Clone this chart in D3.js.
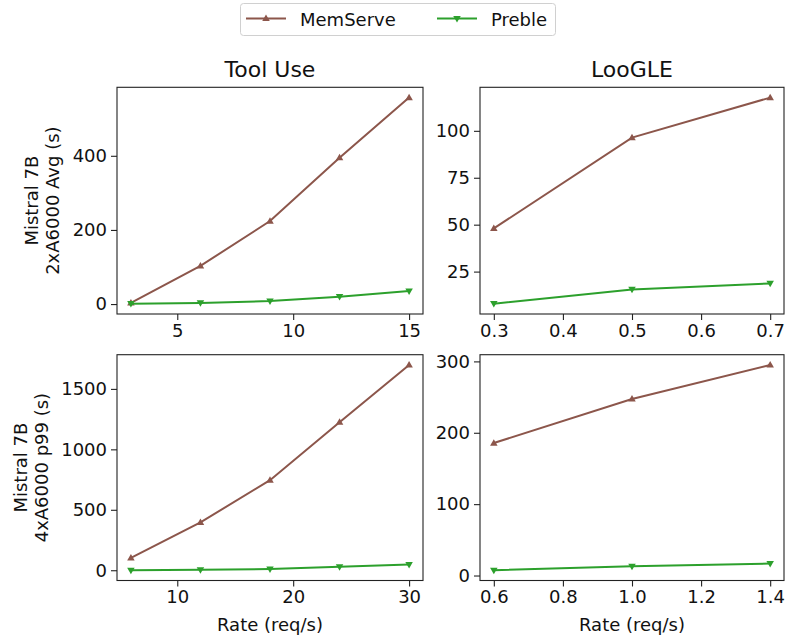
<!DOCTYPE html>
<html>
<head>
<meta charset="utf-8">
<script src="https://cdn.jsdelivr.net/npm/d3@7"></script>
<style>
  body { margin: 0; background: #fff; }
  svg { display: block; font-family: "DejaVu Sans", sans-serif; }
</style>
</head>
<body>
<div class="container"></div>
<script>
// series names and colours
var seriesNames = ["MemServe", "Preble"];
var seriesColors = ["#8c564b", "#2ca02c"];

// top row: Mistral 7B, 2xA6000, average latency
var toolRatesAvg = [3, 6, 9, 12, 15];
var toolMemServeAvg = [3, 103, 224, 395, 557];
var toolPrebleAvg = [1, 3, 8, 20, 35];
var loogleRatesAvg = [0.3, 0.5, 0.7];
var loogleMemServeAvg = [48, 96.4, 117.7];
var looglePrebleAvg = [7.9, 15.5, 18.7];

// bottom row: Mistral 7B, 4xA6000, p99 latency
var toolRatesP99 = [6, 12, 18, 24, 30];
var toolMemServeP99 = [102, 396, 745, 1225, 1698];
var toolPrebleP99 = [0, 3, 10, 28, 47];
var loogleRatesP99 = [0.6, 1.0, 1.4];
var loogleMemServeP99 = [185.6, 247.3, 295];
var looglePrebleP99 = [7.4, 13, 16.8];

// tick values
var xTicksToolAvg = [5, 10, 15];
var yTicksToolAvg = [0, 200, 400];
var xTicksLoogleAvg = [0.3, 0.4, 0.5, 0.6, 0.7];
var yTicksLoogleAvg = [25, 50, 75, 100];
var xTicksToolP99 = [10, 20, 30];
var yTicksToolP99 = [0, 500, 1000, 1500];
var xTicksLoogleP99 = [0.6, 0.8, 1.0, 1.2, 1.4];
var yTicksLoogleP99 = [0, 100, 200, 300];

var colTitles = ["Tool Use", "LooGLE"];
var rowLabels = [["Mistral 7B", "2xA6000 Avg (s)"], ["Mistral 7B", "4xA6000 p99 (s)"]];
var xLabel = "Rate (req/s)";

var width = 785, height = 635;
var colX = [[117, 423], [480, 784]];
var rowY = [[87.3, 314], [354.7, 580.5]];
var tickFont = 18, titleFont = 22;

var svg = d3.select('.container')
    .append('svg')
    .attr('width', width)
    .attr('height', height);

var panels = [
    { row: 0, col: 0, x: toolRatesAvg, ys: [toolMemServeAvg, toolPrebleAvg], xt: xTicksToolAvg, yt: yTicksToolAvg, fmt: d3.format("d") },
    { row: 0, col: 1, x: loogleRatesAvg, ys: [loogleMemServeAvg, looglePrebleAvg], xt: xTicksLoogleAvg, yt: yTicksLoogleAvg, fmt: d3.format(".1f") },
    { row: 1, col: 0, x: toolRatesP99, ys: [toolMemServeP99, toolPrebleP99], xt: xTicksToolP99, yt: yTicksToolP99, fmt: d3.format("d") },
    { row: 1, col: 1, x: loogleRatesP99, ys: [loogleMemServeP99, looglePrebleP99], xt: xTicksLoogleP99, yt: yTicksLoogleP99, fmt: d3.format(".1f") }
];

// matplotlib style 5% margins
function padded(ext) {
    var p = (ext[1] - ext[0]) * 0.05;
    return [ext[0] - p, ext[1] + p];
}

function triangle(up, s) {
    var h = s * 0.866;
    if (up) return "M0," + (-h * 0.6) + "L" + (s / 2) + "," + (h * 0.4) + "L" + (-s / 2) + "," + (h * 0.4) + "Z";
    return "M0," + (h * 0.6) + "L" + (s / 2) + "," + (-h * 0.4) + "L" + (-s / 2) + "," + (-h * 0.4) + "Z";
}

panels.forEach(function (p) {
    var x0 = colX[p.col][0], x1 = colX[p.col][1];
    var y0 = rowY[p.row][0], y1 = rowY[p.row][1];

    var x = d3.scaleLinear().domain(padded(d3.extent(p.x))).range([x0, x1]);
    var allY = p.ys[0].concat(p.ys[1]);
    var y = d3.scaleLinear().domain(padded(d3.extent(allY))).range([y1, y0]);

    var g = svg.append('g');

    var xAxis = g.append('g')
        .attr('transform', 'translate(0,' + y1 + ')')
        .call(d3.axisBottom(x).tickValues(p.xt).tickFormat(p.fmt).tickSize(6).tickPadding(4));
    var yAxis = g.append('g')
        .attr('transform', 'translate(' + x0 + ',0)')
        .call(d3.axisLeft(y).tickValues(p.yt).tickFormat(d3.format("d")).tickSize(6).tickPadding(4));
    [xAxis, yAxis].forEach(function (a) {
        a.select('.domain').remove();
        a.selectAll('.tick line').attr('stroke', '#222').attr('stroke-width', 1.1);
        a.selectAll('.tick text')
            .attr('fill', '#111')
            .style('font-size', tickFont + 'px')
            .style('font-family', '"DejaVu Sans", sans-serif');
    });

    // series
    p.ys.forEach(function (vals, si) {
        var pts = p.x.map(function (d, i) { return [d, vals[i]]; });
        var line = d3.line().x(function (d) { return x(d[0]); }).y(function (d) { return y(d[1]); });
        g.append('path')
            .datum(pts)
            .attr('d', line)
            .attr('fill', 'none')
            .attr('stroke', seriesColors[si])
            .attr('stroke-width', 2);
        g.selectAll('.m' + si)
            .data(pts)
            .enter().append('path')
            .attr('class', 'm' + si)
            .attr('transform', function (d) { return 'translate(' + x(d[0]) + ',' + y(d[1]) + ')'; })
            .attr('d', triangle(si === 0, 7.5))
            .attr('fill', seriesColors[si]);
    });

    // frame
    g.append('rect')
        .attr('x', x0).attr('y', y0)
        .attr('width', x1 - x0).attr('height', y1 - y0)
        .attr('fill', 'none')
        .attr('stroke', '#222')
        .attr('stroke-width', 1.1);

    if (p.row === 0) {
        g.append('text')
            .attr('x', (x0 + x1) / 2).attr('y', 77)
            .attr('text-anchor', 'middle')
            .style('font-size', titleFont + 'px')
            .attr('fill', '#111')
            .text(colTitles[p.col]);
    }
    if (p.row === 1) {
        g.append('text')
            .attr('x', (x0 + x1) / 2).attr('y', 631)
            .attr('text-anchor', 'middle')
            .style('font-size', tickFont + 'px')
            .attr('fill', '#111')
            .text(xLabel);
    }
    if (p.col === 0) {
        var base = p.row === 0 ? [37.5, 59] : [26.5, 48];
        var cy = (y0 + y1) / 2;
        rowLabels[p.row].forEach(function (t, li) {
            g.append('text')
                .attr('transform', 'translate(' + base[li] + ',' + cy + ') rotate(-90)')
                .attr('text-anchor', 'middle')
                .style('font-size', tickFont + 'px')
                .attr('fill', '#111')
                .text(t);
        });
    }
});

// legend
var legend = svg.append('g');
legend.append('rect')
    .attr('x', 240.5).attr('y', 3.5)
    .attr('width', 315).attr('height', 32)
    .attr('rx', 3)
    .attr('fill', '#fff')
    .attr('stroke', '#d0d0d0')
    .attr('stroke-width', 1);
var legendX = [246, 437];
seriesNames.forEach(function (name, i) {
    var lx = legendX[i];
    legend.append('line')
        .attr('x1', lx).attr('x2', lx + 40)
        .attr('y1', 18.5).attr('y2', 18.5)
        .attr('stroke', seriesColors[i])
        .attr('stroke-width', 2);
    legend.append('path')
        .attr('transform', 'translate(' + (lx + 20) + ',18.5)')
        .attr('d', triangle(i === 0, 7.5))
        .attr('fill', seriesColors[i]);
    legend.append('text')
        .attr('x', lx + 54).attr('y', 25.5)
        .style('font-size', tickFont + 'px')
        .attr('fill', '#111')
        .text(name);
});
</script>
</body>
</html>
